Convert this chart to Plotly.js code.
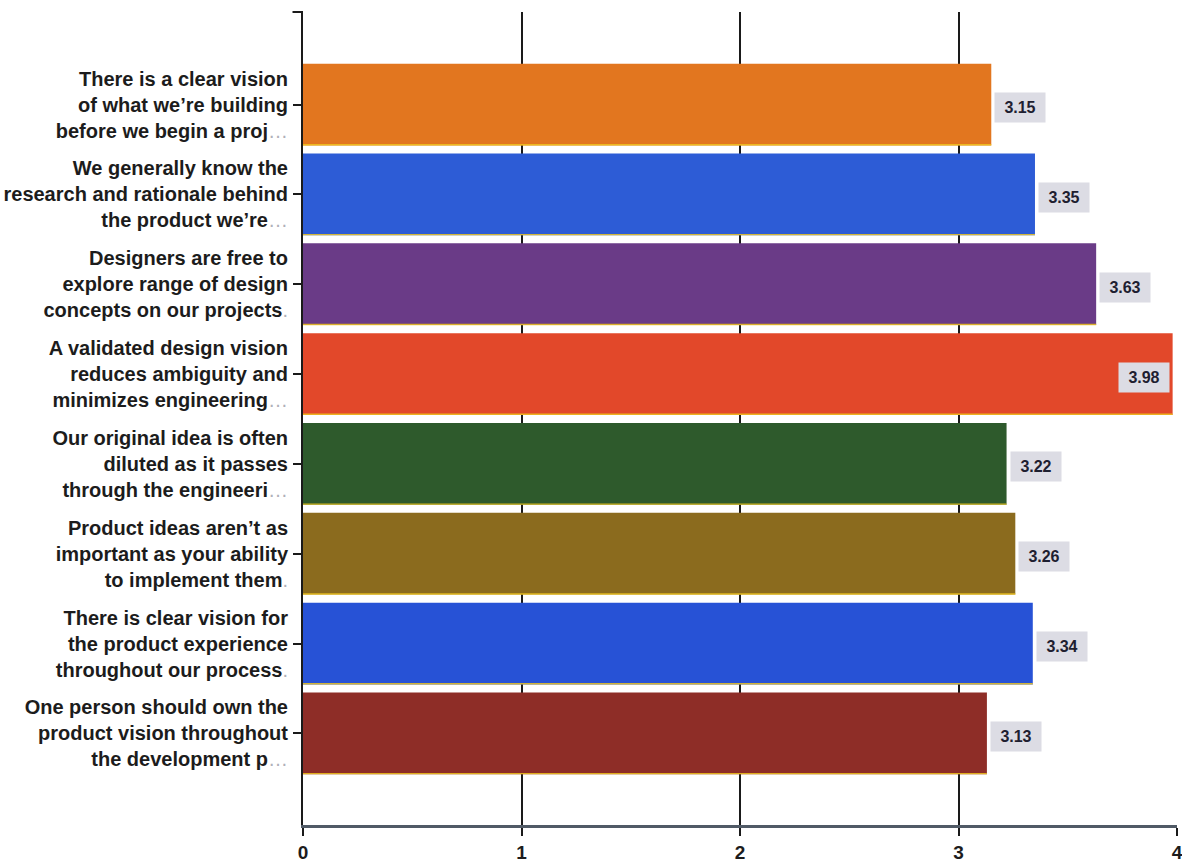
<!DOCTYPE html>
<html>
<head>
<meta charset="utf-8">
<script src="https://cdn.plot.ly/plotly-3.0.1.min.js"></script>
<style>
  html, body { margin: 0; padding: 0; background: #ffffff; }
  #chart { width: 1182px; height: 867px; }
</style>
</head>
<body>
<div id="chart"></div>
<script>
// Survey statements (three wrapped lines each; the last line may be truncated)
const statements = [
  ["There is a clear vision", "of what we\u2019re building", "before we begin a proj", true],
  ["We generally know the", "research and rationale behind", "the product we\u2019re", true],
  ["Designers are free to", "explore range of design", "concepts on our projects", "."],
  ["A validated design vision", "reduces ambiguity and", "minimizes engineering", true],
  ["Our original idea is often", "diluted as it passes", "through the engineeri", true],
  ["Product ideas aren\u2019t as", "important as your ability", "to implement them", "."],
  ["There is clear vision for", "the product experience", "throughout our process", "."],
  ["One person should own the", "product vision throughout", "the development p", true]
];

// Mean agreement score per statement
const scores = [3.15, 3.35, 3.63, 3.98, 3.22, 3.26, 3.34, 3.13];

// Bar colours, top to bottom
const barColors = ["#e2761f", "#2d5cd6", "#6a3b87", "#e2482a", "#2e5a2c", "#8b6b1e", "#2752d6", "#8e2d27"];

// X axis ticks
const xTicks = [0, 1, 2, 3, 4];

const catIds = statements.map((s, i) => i);
const tickText = statements.map(s => {
  const tail = s[3] === true ? '<span style="color:#b0b0b8;font-weight:normal">\u2026</span>'
                             : '<span style="color:#b0b0b8;font-weight:normal">' + s[3] + '</span>';
  return '<b>' + s[0] + '</b><br><b>' + s[1] + '</b><br><b>' + s[2] + '</b>' + tail;
});

const bars = {
  type: 'bar',
  orientation: 'h',
  x: scores,
  y: catIds,
  marker: { color: barColors, line: { width: 0 } },
  hoverinfo: 'skip'
};

// thin warm edge along the lower side of each bar
const edges = {
  type: 'bar',
  orientation: 'h',
  x: scores,
  y: catIds,
  offset: 0.44,
  width: 0.016,
  marker: { color: 'rgba(238,196,30,0.85)', line: { width: 0 } },
  hoverinfo: 'skip'
};

const annotations = scores.map((v, i) => {
  const inside = v > 3.9;
  return {
    x: v, y: i, xref: 'x', yref: 'y',
    text: '<b>' + v.toFixed(2) + '</b>',
    showarrow: false,
    xanchor: inside ? 'right' : 'left',
    xshift: inside ? -3 : 3,
    yshift: -3,
    width: 48,
    height: 27,
    bgcolor: '#dcdce4',
    borderpad: 1,
    font: { family: 'Liberation Sans, Arial, sans-serif', size: 16, color: '#1e2030' }
  };
});

const layout = {
  width: 1182,
  height: 867,
  margin: { l: 303, r: 5, t: 12, b: 42, pad: 0 },
  paper_bgcolor: '#ffffff',
  plot_bgcolor: '#ffffff',
  showlegend: false,
  barmode: 'overlay',
  bargap: 0.09,
  font: { family: 'Liberation Sans, Arial, sans-serif', color: '#1c1c1c' },
  xaxis: {
    range: [0, 4],
    tickvals: xTicks,
    ticktext: xTicks.map(v => '<b>' + v + '</b>'),
    ticklabeloverflow: 'allow',
    showgrid: true,
    gridcolor: '#1a1a1a',
    gridwidth: 2,
    zeroline: false,
    showline: true,
    linecolor: '#505a66',
    linewidth: 3,
    ticks: 'outside',
    ticklen: 8,
    tickwidth: 2,
    tickcolor: '#1a1a1a',
    ticklabelstandoff: 0,
    tickfont: { size: 19, color: '#1c1c1c' },
    fixedrange: true
  },
  yaxis: {
    range: [8.02, -1.03],
    tickvals: catIds,
    ticktext: tickText,
    showgrid: false,
    zeroline: false,
    showline: true,
    linecolor: '#1a1a1a',
    linewidth: 2,
    ticks: 'outside',
    ticklen: 8,
    tickwidth: 2,
    tickcolor: '#1a1a1a',
    ticklabelstandoff: 1,
    tickfont: { size: 20, color: '#1c1c1c' },
    fixedrange: true
  },
  shapes: [
    { type: 'line', xref: 'paper', yref: 'paper', x0: -0.012, x1: 0, y0: 1, y1: 1,
      line: { color: '#1a1a1a', width: 2 } }
  ],
  annotations: annotations
};

Plotly.newPlot('chart', [bars, edges], layout, { displayModeBar: false, staticPlot: true });
</script>
</body>
</html>
